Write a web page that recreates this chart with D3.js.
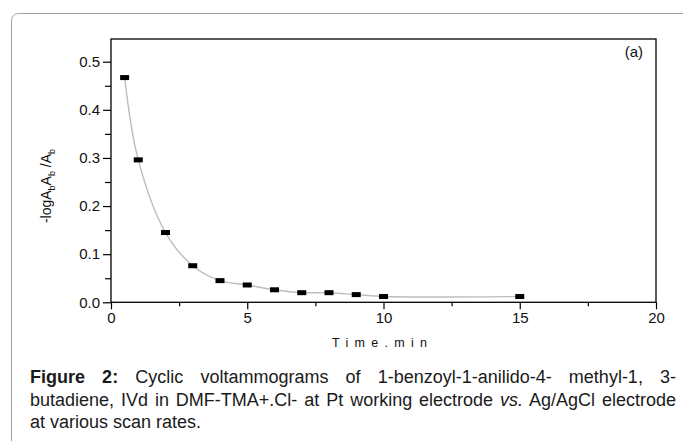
<!DOCTYPE html>
<html><head><meta charset="utf-8">
<script src="https://cdn.jsdelivr.net/npm/d3@7"></script>
<style>html,body{margin:0;padding:0;background:#fff;}svg{display:block;}</style>
</head><body>
<svg id="c" width="683" height="441"></svg>
<script>
const times = [0.5, 1, 2, 3, 4, 5, 6, 7, 8, 9, 10, 15];
const values = [0.467, 0.296, 0.145, 0.076, 0.045, 0.036, 0.026, 0.020, 0.020, 0.016, 0.012, 0.012];
const xTicks = [0, 5, 10, 15, 20];
const xMinor = [2.5, 7.5, 12.5, 17.5];
const yTicks = [0, 0.1, 0.2, 0.3, 0.4, 0.5];
const yMinor = [0.05, 0.15, 0.25, 0.35, 0.45];
const xTitle = "Time.min";
const panelLabel = "(a)";
const captionLines = [
  [{t:"Figure 2:", b:true}, {t:" Cyclic voltammograms of 1-benzoyl-1-anilido-4- methyl-1, 3-"}],
  [{t:"butadiene, IVd in DMF-TMA+.Cl- at Pt working electrode "}, {t:"vs.", i:true}, {t:" Ag/AgCl electrode"}],
  [{t:"at various scan rates."}]
];

const svg = d3.select("#c");
const font = "'Liberation Sans', Arial, sans-serif";

// outer rounded frame
svg.append("rect").attr("x",11.5).attr("y",13.5).attr("width",700).attr("height",460)
  .attr("rx",7).attr("fill","none").attr("stroke","#a0a0a0").attr("stroke-width",1);

const L = 111, R = 656, T = 39, B = 302.3;
const x = d3.scaleLinear().domain([0,20]).range([L,R]);
const y = d3.scaleLinear().domain([0,0.5]).range([B, B - 0.5*481.2]);

const g = svg.append("g");

// axes
const xAx = g.append("g").attr("transform",`translate(0,${B})`)
  .call(d3.axisBottom(x).tickValues(xTicks).tickSize(7).tickPadding(3).tickFormat(d3.format("d")));
const xAxMinor = g.append("g").attr("transform",`translate(0,${B})`)
  .call(d3.axisBottom(x).tickValues(xMinor).tickSize(4).tickFormat(""));
const yAx = g.append("g").attr("transform",`translate(${L},0)`)
  .call(d3.axisLeft(y).tickValues(yTicks).tickSize(8).tickPadding(3).tickFormat(d3.format(".1f")));
const yAxMinor = g.append("g").attr("transform",`translate(${L},0)`)
  .call(d3.axisLeft(y).tickValues(yMinor).tickSize(6).tickFormat(""));
[xAx,xAxMinor,yAx,yAxMinor].forEach(a=>{
  a.select(".domain").remove();
  a.selectAll("line").attr("stroke","#000").attr("stroke-width",1.2);
  a.selectAll("text").attr("font-family",font).attr("font-size",15).attr("fill","#111");
});
xAxMinor.selectAll("text").remove();
yAxMinor.selectAll("text").remove();

// frame
g.append("rect").attr("x",L).attr("y",T).attr("width",R-L).attr("height",B-T)
  .attr("fill","none").attr("stroke","#000").attr("stroke-width",1.3);

// line
const pts = times.map((t,i)=>[t,values[i]]);
g.append("path").datum(pts)
  .attr("d", d3.line().x(d=>x(d[0])).y(d=>y(d[1])).curve(d3.curveCatmullRom.alpha(0.5)))
  .attr("fill","none").attr("stroke","#bdbdbd").attr("stroke-width",1.4);

// markers
g.selectAll("rect.pt").data(pts).enter().append("rect").attr("class","pt")
  .attr("x",d=>x(d[0])-4.5).attr("y",d=>y(d[1])-2.5).attr("width",9).attr("height",5).attr("fill","#000");

// panel label
g.append("text").attr("x",643).attr("y",57).attr("text-anchor","end")
  .attr("font-family",font).attr("font-size",15).attr("fill","#111").text(panelLabel);

// x title
g.append("text").attr("x",332).attr("y",347).attr("textLength",95).attr("lengthAdjust","spacing")
  .attr("font-family",font).attr("font-size",12.5).attr("fill","#111").text(xTitle);

// y title
const yt = g.append("text").attr("transform","translate(51,186) rotate(-90)")
  .attr("text-anchor","middle").attr("font-family",font).attr("font-size",14).attr("fill","#111");
const yparts = [["-logA",0],["b",1],["A",0],["b",1],[" /A",0],["b",1]];
let prevSub = false;
yparts.forEach(([t,s])=>{
  const dy = s ? 4 : (prevSub ? -4 : 0);
  yt.append("tspan").attr("font-size", s?9:14).attr("dy", dy).text(t);
  prevSub = !!s;
});

// caption
const capX = 30, capW = 646, capY = [383, 406, 428];
const probe = svg.append("text").attr("font-family",font).attr("font-size",16)
  .text(captionLines[1].map(p=>p.t).join(""));
const pw = probe.node().getComputedTextLength();
probe.remove();
const capFs = Math.max(14, Math.min(18, 16 * (capW - 6) / pw));
captionLines.forEach((parts, li)=>{
  const txt = svg.append("text").attr("x",capX).attr("y",capY[li])
    .attr("font-family",font).attr("font-size",capFs).attr("fill","#1a1a1a");
  parts.forEach(p=>{
    const ts = txt.append("tspan").text(p.t);
    if(p.b) ts.attr("font-weight","bold");
    if(p.i) ts.attr("font-style","italic");
  });
  if(li < 2){
    const w = txt.node().getComputedTextLength();
    const full = parts.map(p=>p.t).join("");
    const nSp = (full.match(/ /g)||[]).length;
    const extra = (capW - w)/nSp;
    txt.attr("word-spacing", extra);
  }
});
</script>
</body></html>
